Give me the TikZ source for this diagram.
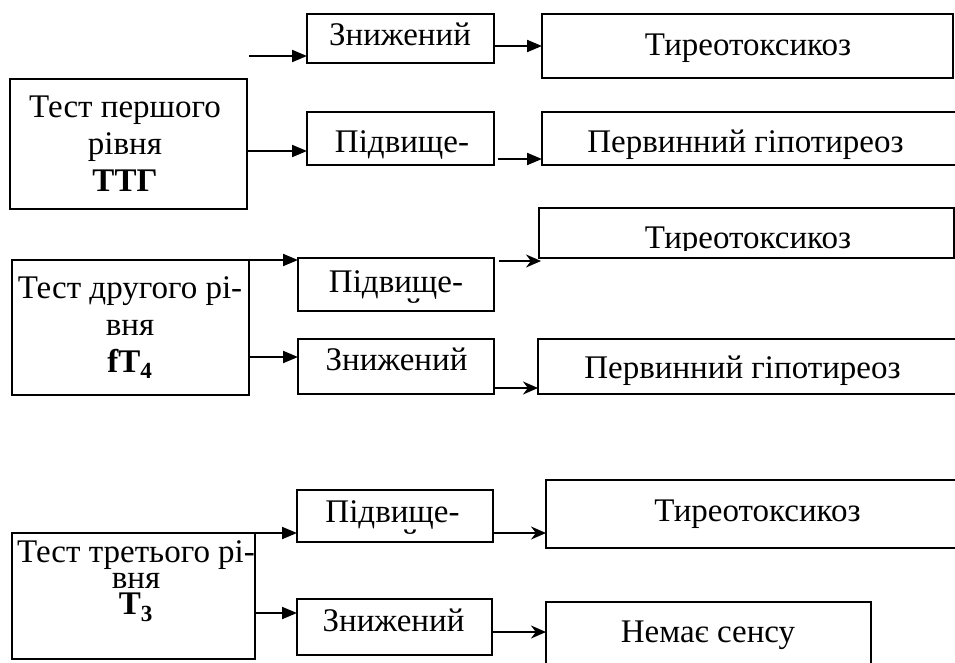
\documentclass[tikz,border=0pt]{standalone}
\usepackage{fontspec}
\setmainfont{Liberation Serif}
\usetikzlibrary{arrows.meta}

\tikzset{
  box/.style={draw, line width=1.5pt, inner sep=0pt, outer sep=0pt},
  lbl/.style={anchor=base, inner sep=0pt, font=\fontsize{33}{37}\selectfont},
  sarr/.style={-{Stealth[length=15pt,width=13pt]}},
}

\begin{document}
\begin{tikzpicture}[x=1pt, y=-1pt, line width=2pt, >={Triangle[length=15pt,width=12pt]}]
\useasboundingbox (0,0) rectangle (955,662);
\clip (0,0) rectangle (955,662);

% first level
\node [box, minimum width=237pt, minimum height=130pt] (l1) at (128.5,144) {};
\node [box, minimum width=187pt, minimum height=49pt] (z1) at (400.5,38.5) {};
\node [box, minimum width=187pt, minimum height=53pt] (p1) at (400.5,138.5) {};
\node [box, minimum width=411pt, minimum height=64pt] (t1) at (747.5,46) {};
\node [box, minimum width=416pt, minimum height=53pt] (g1) at (750,138.5) {};
\coordinate (s1) at (249,56);

\node [lbl, anchor=center, align=center] (l1t) at (125,144) {Тест першого\\рівня\\\textbf{ТТГ}};
\node [lbl] (z1t) at (400,45) {Знижений};
\node [lbl] (p1t) at (402,152) {Підвище-};
\node [lbl] (t1t) at (748,55) {Тиреотоксикоз};
\node [lbl] (g1t) at (745.5,152) {Первинний гіпотиреоз};

\draw[->] (s1) -- (s1 -| z1.west);
\draw[->] (z1.east |- t1.west) -- (t1.west);
\draw[->] ([yshift=-7pt]l1.east) -- ([yshift=-7pt]l1.east -| p1.west);
\draw[->] ([xshift=4pt,yshift=-20.5pt]p1.east) -- ([yshift=-20.5pt]p1.east -| g1.west);

% second level
\node [box, minimum width=237pt, minimum height=135pt] (l2) at (130.5,327.5) {};
\node [box, minimum width=196pt, minimum height=53pt] (p2) at (396,284.5) {};
\node [box, minimum width=196pt, minimum height=55pt] (z2) at (396,366.5) {};
\node [box, minimum width=415pt, minimum height=50pt] (t2) at (746.5,233) {};
\node [box, minimum width=420pt, minimum height=55pt] (g2) at (748,366.5) {};

\node [lbl, anchor=center, align=center] (l2t) at (130,327.5) {Тест другого рі-\\вня\\\textbf{fT\textsubscript{4}}};
\begin{scope}
\clip (298,258) rectangle (494,304);
\node [lbl] (p2t) at (396,292) {Підвище-};
\node [lbl] (p2n) at (396,321.5) {ний};
\end{scope}
\node [lbl] (z2t) at (396.5,370) {Знижений};
\begin{scope}
\clip (539,208) rectangle (954,250);
\node [lbl] (t2t) at (748,248) {Тиреотоксикоз};
\end{scope}
\node [lbl] (g2t) at (742.5,378) {Первинний гіпотиреоз};

\draw[->] (l2.north east) -- (l2.north east -| p2.west);
\draw[->] ([yshift=-29.5pt]l2.east) -- ([yshift=-29.5pt]l2.east -| z2.west);
\draw[sarr] ([xshift=5pt,yshift=-3pt]p2.north east) -- ([xshift=2pt,yshift=-3pt]t2.south west);
\draw[sarr] ([yshift=6pt]z2.south east) -- ([yshift=6pt]z2.south east -| g2.west);

% third level
\node [box, minimum width=243pt, minimum height=126pt] (l3) at (133.5,596) {};
\node [box, minimum width=196pt, minimum height=52pt] (p3) at (395,516) {};
\node [box, minimum width=195pt, minimum height=56pt] (z3) at (394.5,627) {};
\node [box, minimum width=412pt, minimum height=68pt] (t3) at (752,514) {};
\node [box, minimum width=325pt, minimum height=66pt] (n3) at (708.5,635) {};

\node [lbl, anchor=center, align=center, font=\fontsize{33}{26}\selectfont] (l3t) at (136,581) {Тест третього рі-\\вня\\\textbf{T\textsubscript{3}}};
\begin{scope}
\clip (297,490) rectangle (493,535);
\node [lbl] (p3t) at (392.5,522) {Підвище-};
\node [lbl] (p3n) at (392.5,552.5) {ний};
\end{scope}
\node [lbl] (z3t) at (393.5,631) {Знижений};
\node [lbl] (t3t) at (757.5,521) {Тиреотоксикоз};
\node [lbl] (n3t) at (708,642) {Немає сенсу};

\draw[->] (l3.north east) -- (l3.north east -| p3.west);
\draw[->] ([yshift=-17pt]l3.east) -- ([yshift=-17pt]l3.east -| z3.west);
\draw[sarr] ([yshift=-17pt]p3.east) -- ([yshift=-17pt]p3.east -| t3.west);
\draw[sarr] ([yshift=-5pt]z3.east) -- ([yshift=-5pt]z3.east -| n3.west);
\end{tikzpicture}
\end{document}
